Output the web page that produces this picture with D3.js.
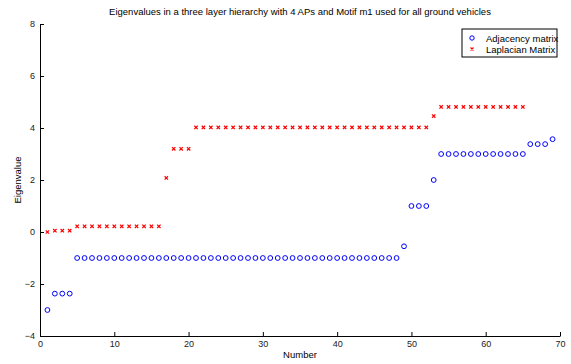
<!DOCTYPE html>
<html>
<head>
<meta charset="utf-8">
<script src="https://cdn.jsdelivr.net/npm/d3@7"></script>
<style>
  body { margin: 0; background: #fff; }
  text { font-family: "Liberation Sans", Arial, sans-serif; }
</style>
</head>
<body>
<div id="chart"></div>
<script>
// eigenvalues, index = 1..69
var adjacency = [-3, -2.37, -2.37, -2.37]
  .concat(d3.range(44).map(function() { return -1; }))
  .concat([-0.55, 1, 1, 1, 2])
  .concat(d3.range(12).map(function() { return 3; }))
  .concat([3.38, 3.38, 3.38, 3.57]);

var laplacian = [0, 0.05, 0.05, 0.05]
  .concat(d3.range(12).map(function() { return 0.22; }))
  .concat([2.08, 3.2, 3.2, 3.2])
  .concat(d3.range(32).map(function() { return 4.02; }))
  .concat([4.46])
  .concat(d3.range(12).map(function() { return 4.81; }))
  .concat([6.8, 6.8, 6.8]);

var xTicks = [0, 10, 20, 30, 40, 50, 60, 70];
var yTicks = [-4, -2, 0, 2, 4, 6, 8];

var width = 571, height = 364;
var margin = {top: 24, right: 11, bottom: 28, left: 40};

var svg = d3.select("#chart").append("svg")
    .attr("width", width)
    .attr("height", height);

var x = d3.scaleLinear().domain([0, 70]).range([margin.left, width - margin.right]);
var y = d3.scaleLinear().domain([-4, 8]).range([height - margin.bottom, margin.top]);

// axes (ticks pointing inward, like matlab)
var xAxis = svg.append("g")
    .attr("transform", "translate(0," + y(-4) + ")")
    .call(d3.axisBottom(x).tickValues(xTicks).tickSizeInner(-4).tickSizeOuter(0).tickPadding(5));
var yAxis = svg.append("g")
    .attr("transform", "translate(" + x(0) + ",0)")
    .call(d3.axisLeft(y).tickValues(yTicks).tickSizeInner(-4).tickSizeOuter(0).tickPadding(5));

[xAxis, yAxis].forEach(function(a) {
  a.select(".domain").attr("stroke", "#000").attr("stroke-width", 1);
  a.selectAll(".tick line").attr("stroke", "#000");
  a.selectAll(".tick text")
    .attr("fill", "#222")
    .style("font-size", "9px")
    .style("font-family", "Liberation Sans, Arial, sans-serif");
});

// adjacency: blue circles
svg.append("g").selectAll("circle")
    .data(adjacency)
  .enter().append("circle")
    .attr("cx", function(d, i) { return x(i + 1); })
    .attr("cy", function(d) { return y(d); })
    .attr("r", 2.4)
    .attr("fill", "none")
    .attr("stroke", "#0000ff")
    .attr("stroke-width", 1);

// laplacian: red crosses
var s = 1.7;
svg.append("g").selectAll("path")
    .data(laplacian)
  .enter().append("path")
    .attr("transform", function(d, i) { return "translate(" + x(i + 1) + "," + y(d) + ")"; })
    .attr("d", "M" + (-s) + "," + (-s) + "L" + s + "," + s + "M" + (-s) + "," + s + "L" + s + "," + (-s))
    .attr("stroke", "#ff0000")
    .attr("stroke-width", 1.2);

// title and labels
svg.append("text")
    .attr("x", x(35)).attr("y", 15)
    .attr("text-anchor", "middle")
    .style("font-size", "9.5px")
    .text("Eigenvalues in a three layer hierarchy with 4 APs and Motif m1 used for all ground vehicles");

svg.append("text")
    .attr("x", x(35)).attr("y", 358)
    .attr("text-anchor", "middle")
    .style("font-size", "9.5px")
    .text("Number");

svg.append("text")
    .attr("transform", "translate(21," + y(2) + ")rotate(-90)")
    .attr("text-anchor", "middle")
    .style("font-size", "9.5px")
    .text("Eigenvalue");

// legend
var legend = svg.append("g").attr("transform", "translate(462,29)");
legend.append("rect")
    .attr("width", 95).attr("height", 28)
    .attr("fill", "#fff").attr("stroke", "#000").attr("stroke-width", 1);
legend.append("circle")
    .attr("cx", 10).attr("cy", 9)
    .attr("r", 2.2).attr("fill", "none").attr("stroke", "#0000ff");
legend.append("path")
    .attr("transform", "translate(10,20)")
    .attr("d", "M-1.5,-1.5L1.5,1.5M-1.5,1.5L1.5,-1.5")
    .attr("stroke", "#ff0000").attr("stroke-width", 1.2);
legend.append("text").attr("x", 24).attr("y", 12.5).style("font-size", "9.5px").text("Adjacency matrix");
legend.append("text").attr("x", 24).attr("y", 23.5).style("font-size", "9.5px").text("Laplacian Matrix");
</script>
</body>
</html>
